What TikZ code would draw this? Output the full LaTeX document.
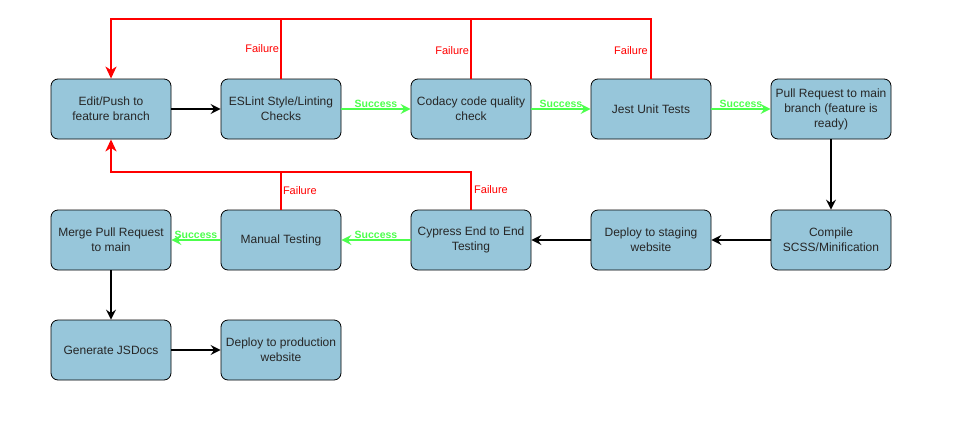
\documentclass[tikz,border=0pt]{standalone}
\usepackage{fontspec}
\setmainfont{Liberation Sans}
\usetikzlibrary{arrows.meta}
\definecolor{boxblue}{HTML}{97C6DA}
\definecolor{okgreen}{HTML}{4CFF4C}
\begin{document}
\begin{tikzpicture}[
    x=1pt, y=-1pt,
    stage/.style={rectangle, rounded corners=7pt, draw=black, thick, fill=boxblue,
        minimum width=120pt, minimum height=60pt, align=center,
        font=\fontsize{12}{15}\selectfont, text=black!85},
    flow/.style={line width=1.4pt, -{Stealth[length=10pt,width=10pt,inset=3.5pt]}},
    pass/.style={flow, draw=okgreen},
    fail/.style={line width=2pt, draw=red},
    passlabel/.style={font=\fontsize{10.5}{12}\selectfont\bfseries, text=okgreen, inner sep=1pt},
    faillabel/.style={font=\fontsize{11}{12}\selectfont, text=red, inner sep=1pt}
]
    \useasboundingbox (0,0) rectangle (961,421);
    \node[stage] (edit) at (111,109) {Edit/Push to\\feature branch};
    \node[stage] (eslint) at (281,109) {ESLint Style/Linting\\Checks};
    \node[stage] (codacy) at (471,109) {Codacy code quality\\check};
    \node[stage] (jest) at (651,109) {Jest Unit Tests};
    \node[stage] (pr) at (831,109) {Pull Request to main\\branch (feature is\\ready)};
    \node[stage] (compile) at (831,240) {Compile\\SCSS/Minification};
    \node[stage] (staging) at (651,240) {Deploy to staging\\website};
    \node[stage] (cypress) at (471,240) {Cypress End to End\\Testing};
    \node[stage] (manual) at (281,240) {Manual Testing};
    \node[stage] (merge) at (111,240) {Merge Pull Request\\to main};
    \node[stage] (jsdocs) at (111,350) {Generate JSDocs};
    \node[stage] (prod) at (281,350) {Deploy to production\\website};
    \coordinate (backtop) at (111,19);
    \coordinate (backmid) at (111,172);
    % forward path
    \draw[flow] (edit) -- (eslint);
    \draw[pass] (eslint) -- node[passlabel, above] {Success} (codacy);
    \draw[pass] (codacy) -- node[passlabel, above] {Success} (jest);
    \draw[pass] (jest) -- node[passlabel, above] {Success} (pr);
    \draw[flow] (pr) -- (compile);
    \draw[flow] (compile) -- (staging);
    \draw[flow] (staging) -- (cypress);
    \draw[pass] (cypress) -- node[passlabel, above] {Success} (manual);
    \draw[pass] (manual) -- node[passlabel, above] {Success} (merge);
    \draw[flow] (merge) -- (jsdocs);
    \draw[flow] (jsdocs) -- (prod);
    % failures go back
    \draw[fail, -{Stealth[length=12pt,width=11pt,inset=3.5pt]}] (jest.north) |- (backtop) -- (edit.north);
    \draw[fail] (eslint.north) -- node[faillabel, left, pos=0.5] {Failure} (eslint.north |- backtop);
    \draw[fail] (codacy.north) -- node[faillabel, left, pos=0.47] {Failure} (codacy.north |- backtop);
    \node[faillabel, anchor=east] at (649,51) {Failure};
    \draw[fail, -{Stealth[length=12pt,width=11pt,inset=3.5pt]}] (cypress.north) |- (backmid) -- (edit.south);
    \draw[fail] (manual.north) -- node[faillabel, right, pos=0.5] {Failure} (manual.north |- backmid);
    \node[faillabel, anchor=west] at (473,190) {Failure};
\end{tikzpicture}
\end{document}
